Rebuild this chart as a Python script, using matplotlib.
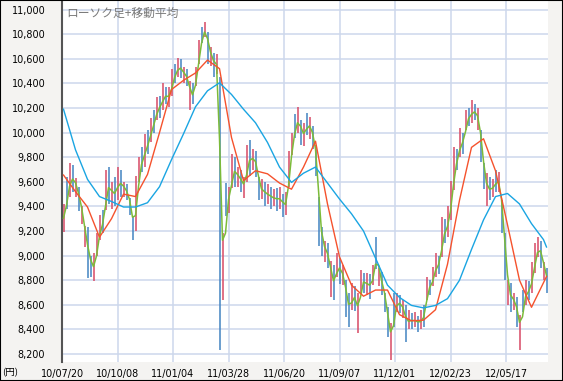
import matplotlib.pyplot as plt
import numpy as np
import pandas as pd
from matplotlib.patches import Rectangle

plt.rcParams['font.family'] = ['DejaVu Sans']

# candles, one every 3rd trading day (open, close in yen)
opens = [9190, 9640, 9480, 9740, 9480, 9560, 9260, 9070, 9230, 9000,
         8790, 9000, 9130, 9370, 9370, 9720, 9380, 9640, 9450, 9700,
         9480, 9580, 9470, 9320, 9200, 9600, 9880, 9720, 10020, 9920,
         10180, 10100, 10300, 10180, 10370, 10210, 10300, 10560, 10450, 10600,
         10400, 10520, 10180, 10400, 10380, 10560, 10860, 10780, 10820, 10540,
         10650, 10480, 10450, 8640, 9590, 9350, 9550, 9800, 9560, 9700,
         9470, 9600, 9940, 9700, 9850, 9640, 9460, 9600, 9420, 9560,
         9400, 9550, 9380, 9500, 9330, 9560, 9820, 10150, 10000, 10100,
         9890, 10160, 9950, 10050, 9900, 9480, 9230, 8950, 9100, 8660,
         8920, 8830, 8980, 8760, 8800, 8700, 8560, 8750, 8370, 8700,
         8860, 8680, 8850, 8760, 9150, 8750, 8870, 8700, 8580, 8150,
         8700, 8540, 8680, 8490, 8600, 8400, 8530, 8420, 8510, 8400,
         8600, 8640, 8800, 8750, 8830, 9000, 8990, 9300, 9150, 9290,
         9530, 9870, 9800, 10000, 10020, 10200, 10080, 10230, 10020, 10020,
         9750, 9400, 9640, 9480, 9700, 9520, 9450, 9180, 8600, 8780,
         8560, 8660, 8230, 8720, 8600, 8790, 8700, 8860, 8990, 9120,
         8800, 8900]
closes = [9420, 9380, 9750, 9520, 9630, 9360, 9400, 9240, 8820, 8830,
          9020, 9180, 9330, 9180, 9700, 9420, 9600, 9400, 9720, 9480,
          9600, 9450, 9330, 9130, 9650, 9800, 9680, 9990, 9830, 10120,
          10000, 10290, 10120, 10400, 10230, 10370, 10520, 10400, 10610, 10440,
          10530, 10380, 10420, 10230, 10530, 10750, 10730, 10900, 10560, 10700,
          10450, 10640, 8230, 9180, 9320, 9560, 9830, 9560, 9720, 9520,
          9640, 9900, 9650, 9870, 9640, 9450, 9620, 9400, 9580, 9380,
          9540, 9360, 9560, 9310, 9520, 9850, 10000, 9960, 10210, 9900,
          10080, 9980, 10130, 9870, 9650, 9080, 9000, 9120, 8900, 8960,
          8640, 9020, 8770, 8920, 8500, 8420, 8780, 8550, 8700, 8880,
          8700, 8860, 8650, 8920, 8890, 8900, 8680, 8540, 8340, 8450,
          8420, 8700, 8530, 8640, 8300, 8560, 8400, 8540, 8380, 8560,
          8420, 8830, 8680, 8910, 9020, 8850, 9310, 9100, 9400, 9610,
          9880, 9700, 10040, 9830, 10180, 10050, 10265, 10100, 10200, 9760,
          9540, 9670, 9450, 9620, 9520, 9680, 9180, 8800, 8800, 8540,
          8700, 8420, 8520, 8540, 8800, 8640, 8950, 9100, 9150, 8900,
          8950, 8700]

# 25-day and 75-day moving averages, read at every 4th candle and the last one
ma25 = [9655, 9520, 9395, 9150, 9300, 9500, 9480, 9660, 10000, 10350,
        10425, 10485, 10590, 10520, 9960, 9610, 9690, 9665, 9590, 9540,
        9720, 9930, 9420, 8990, 8760, 8670, 8720, 8720, 8520, 8470,
        8475, 8560, 8930, 9450, 9880, 9950, 9690, 9250, 8800, 8580,
        8780, 8830]
ma75 = [10190, 9860, 9620, 9480, 9440, 9395, 9395, 9430, 9560, 9780,
        9990, 10210, 10340, 10405, 10310, 10190, 10080, 9920, 9720, 9595,
        9670, 9720, 9590, 9460, 9340, 9200, 8980, 8760, 8660, 8595,
        8575, 8595, 8650, 8800, 9050, 9290, 9480, 9505, 9420, 9260,
        9130, 9070]

xticklabels = ['10/07/20', '10/10/08', '11/01/04', '11/03/28', '11/06/20',
               '11/09/07', '11/12/01', '12/02/23', '12/05/17']
yticks = list(range(8200, 11001, 200))

o = np.array(opens)
c = np.array(closes)
n = len(o)
x = 1.5 + 3 * np.arange(n)
ma_idx = np.r_[0:n - 1:4, n - 1]
ma5 = pd.Series((o + c) / 2).rolling(2, min_periods=1).mean()

fig = plt.figure(figsize=(5.63, 3.81), dpi=100, facecolor='#f4f3f1')
ax = fig.add_axes([62 / 563, 1 - 362 / 381, 486 / 563, 361 / 381])
ax.set_facecolor('white')

cols = np.where(c >= o, '#d9506a', '#4a88c4')
ax.vlines(x, np.minimum(o, c), np.maximum(o, c), colors=cols, lw=1.15, zorder=2)
ax.plot(x, ma5, color='#7cbb3a', lw=1.1, zorder=3)
ax.plot(x[ma_idx], ma25, color='#f5522d', lw=1.0, zorder=4)
ax.plot(x[ma_idx], ma75, color='#1aa5e2', lw=1.0, zorder=4)

ax.set_xlim(0, 486)
ax.set_ylim(8135, 11070)
ax.set_xticks([55.5 * i for i in range(len(xticklabels))])
ax.set_xticklabels(xticklabels)
ax.set_yticks(yticks)
ax.set_yticklabels([f'{v:,}' for v in yticks])
ax.tick_params(length=0, labelsize=6.9, colors='#000000')
ax.tick_params(axis='y', pad=12)
ax.tick_params(axis='x', pad=5)
ax.grid(True, color='#cdd7ec', lw=1.1, zorder=0)
for s in ['top', 'right', 'bottom']:
    ax.spines[s].set_visible(False)
ax.spines['left'].set_color('#555555')
ax.spines['left'].set_linewidth(1.5)

ax.text(0.008, 0.985, 'ローソク足+移動平均', transform=ax.transAxes, ha='left', va='top',
        fontsize=8.5, color='#7a7a7a', family=['Noto Sans CJK JP', 'DejaVu Sans'])
fig.text(2 / 563, 1 - 373 / 381, '(円)', ha='left', va='center', fontsize=6.8,
         family=['Noto Sans CJK JP', 'DejaVu Sans'])

fig.patches.append(Rectangle((0, 0), 1, 1, transform=fig.transFigure, fill=False,
                             edgecolor='black', lw=1.5))

fig.savefig('out.png', dpi=100, facecolor=fig.get_facecolor())
